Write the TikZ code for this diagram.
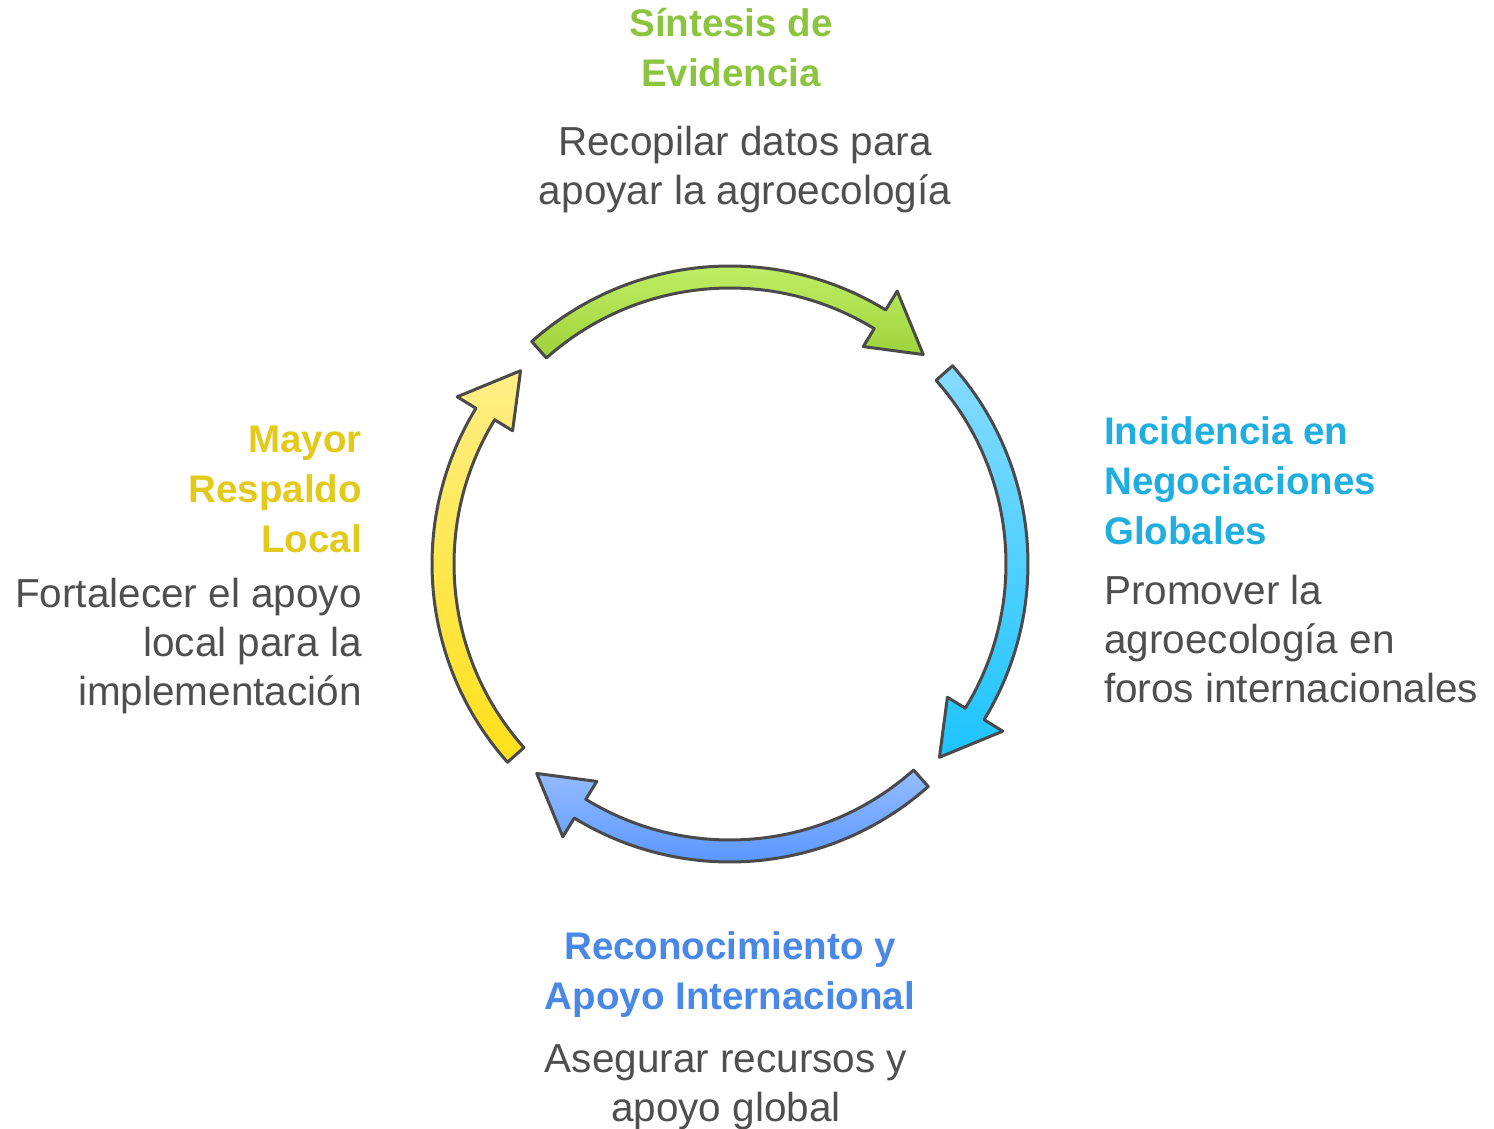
\documentclass[tikz,border=0pt]{standalone}
\usepackage{fontspec}
\setmainfont{Liberation Sans}
\definecolor{gtop}{HTML}{C8F470}
\definecolor{gbot}{HTML}{9ED33A}
\definecolor{ctop}{HTML}{86DBFF}
\definecolor{cbot}{HTML}{1DC4FF}
\definecolor{btop}{HTML}{95BDFF}
\definecolor{bbot}{HTML}{4A8CFF}
\definecolor{ytop}{HTML}{FFEE85}
\definecolor{ybot}{HTML}{FFE01A}
\definecolor{tgreen}{HTML}{8CC43F}
\definecolor{tcyan}{HTML}{20AEE0}
\definecolor{tblue}{HTML}{4A88E8}
\definecolor{tyellow}{HTML}{E2C91A}
\definecolor{bodygray}{HTML}{4F4F4F}
\definecolor{outl}{HTML}{4A4A4A}
\begin{document}
\begin{tikzpicture}[x=1pt,y=1pt,
  band/.style={draw=outl, line width=3pt, line join=round},
  ttl/.style={inner sep=0pt, font=\fontsize{38.5}{50}\selectfont\bfseries},
  bdy/.style={inner sep=0pt, text=bodygray, font=\fontsize{40.5}{49}\selectfont}]
\useasboundingbox (0,0) rectangle (1494,1128);
\coordinate (C) at (730,564);
\begin{scope}[shift={(C)}]
  % green (top)
  \path[band, top color=gtop, bottom color=gbot]
    (131.7:276) arc[start angle=131.7, end angle=58.5, radius=276]
    -- (58.5:255) -- (47.3:285) -- (58.5:320) -- (58.5:298)
    arc[start angle=58.5, end angle=131.7, radius=298] -- cycle;
  % cyan (right)
  \path[band, top color=ctop, bottom color=cbot]
    (41.7:276) arc[start angle=41.7, end angle=-31.5, radius=276]
    -- (-31.5:255) -- (-42.7:285) -- (-31.5:320) -- (-31.5:298)
    arc[start angle=-31.5, end angle=41.7, radius=298] -- cycle;
  % blue (bottom)
  \path[band, top color=btop, bottom color=bbot]
    (-48.3:276) arc[start angle=-48.3, end angle=-121.5, radius=276]
    -- (-121.5:255) -- (-132.7:285) -- (-121.5:320) -- (-121.5:298)
    arc[start angle=-121.5, end angle=-48.3, radius=298] -- cycle;
  % yellow (left)
  \path[band, top color=ytop, bottom color=ybot]
    (-138.3:276) arc[start angle=-138.3, end angle=-211.5, radius=276]
    -- (-211.5:255) -- (-222.7:285) -- (-211.5:320) -- (-211.5:298)
    arc[start angle=-211.5, end angle=-138.3, radius=298] -- cycle;
\end{scope}
% texts
\node[ttl, text=tgreen, anchor=base] (t1) at (731,1091)
  {\begin{tabular}[t]{@{}c@{}}Síntesis de\\Evidencia\end{tabular}};
\node[bdy, anchor=base] (d1) at (745,972)
  {\begin{tabular}[t]{@{}c@{}}Recopilar datos para\\apoyar la agroecología\end{tabular}};
\node[ttl, text=tcyan, anchor=base west] (t2) at (1104,683)
  {\begin{tabular}[t]{@{}l@{}}Incidencia en\\Negociaciones\\Globales\end{tabular}};
\node[bdy, anchor=base west] (d2) at (1104,523)
  {\begin{tabular}[t]{@{}l@{}}Promover la\\agroecología en\\foros internacionales\end{tabular}};
\node[ttl, text=tblue, anchor=base] (t3) at (730,169)
  {\begin{tabular}[t]{@{}c@{}}Reconocimiento y\\Apoyo Internacional\end{tabular}};
\node[bdy, anchor=base] (d3) at (726,56)
  {\begin{tabular}[t]{@{}c@{}}Asegurar recursos y\\apoyo global\end{tabular}};
\node[ttl, text=tyellow, anchor=base east] (t4) at (362,675)
  {\begin{tabular}[t]{@{}r@{}}Mayor\\Respaldo\\Local\end{tabular}};
\node[bdy, anchor=base east] (d4) at (362,520)
  {\begin{tabular}[t]{@{}r@{}}Fortalecer el apoyo\\local para la\\implementación\end{tabular}};
\end{tikzpicture}
\end{document}
